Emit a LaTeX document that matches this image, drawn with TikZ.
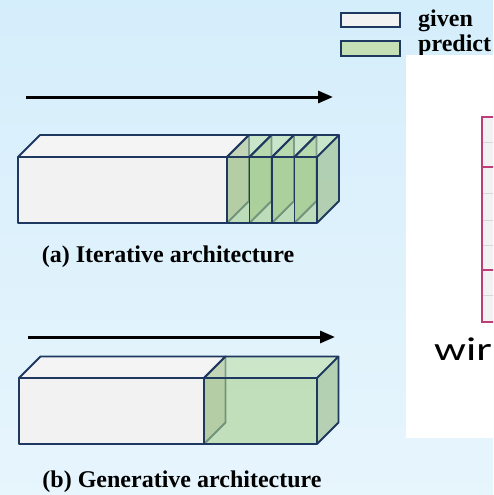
\documentclass[tikz,border=0pt]{standalone}
\usepackage{fontspec}
\setmainfont{Liberation Serif}
\newfontfamily\slidefont{Carlito}
\usetikzlibrary{arrows.meta}

\definecolor{bgtop}{RGB}{213,238,251}
\definecolor{bgbot}{RGB}{231,245,253}
\definecolor{edge}{RGB}{31,56,96}
\definecolor{givenfill}{RGB}{242,242,242}
\definecolor{giventop}{RGB}{244,244,244}
\definecolor{givenside}{RGB}{200,200,200}
\definecolor{predfront}{RGB}{169,209,142}
\definecolor{predtop}{RGB}{190,222,170}
\definecolor{predside}{RGB}{150,185,130}
\definecolor{legendgreen}{RGB}{197,224,180}
\definecolor{tablered}{RGB}{190,60,120}
\definecolor{rowline}{RGB}{215,215,215}

\tikzset{
  boxedge/.style={draw=edge, line width=1.8pt, line join=round},
  legendbox/.style={draw=edge, line width=1.8pt},
  flowarrow/.style={line width=3pt, -{Triangle[length=15pt,width=12pt]}},
  labeltext/.style={inner sep=0pt, font=\fontsize{24}{24}\selectfont\bfseries},
  givenface/.style={fill=givenfill},
  giventopface/.style={fill=giventop},
  givensideface/.style={fill=givenside},
  predface/.style={fill=predfront, fill opacity=0.6},
  predtopface/.style={fill=predtop, fill opacity=0.6},
  predsideface/.style={fill=predside, fill opacity=0.6},
}

% cuboid: x0, x1, front top y, front bottom y, depth, front/top/side face styles
\newcommand\cuboid[8]{%
  \fill[#6] (#1,#3) rectangle (#2,#4);
  \fill[#7] (#1,#3) -- ++(#5,-#5) -- ++(#2-#1,0) -- (#2,#3) -- cycle;
  \fill[#8] (#2,#3) -- ++(#5,-#5) -- ++(0,#4-#3) -- (#2,#4) -- cycle;
  \draw[boxedge] (#1,#3) rectangle (#2,#4);
  \draw[boxedge] (#1,#3) -- ++(#5,-#5) -- ++(#2-#1,0) -- (#2,#3);
  \draw[boxedge] (#2+#5,#3-#5) -- ++(0,#4-#3) -- (#2,#4);
}

\begin{document}
\begin{tikzpicture}[x=1pt, y=-1pt]
  \clip (0,0) rectangle (493,495);
  % backdrop
  \shade[top color=bgtop, bottom color=bgbot] (0,0) rectangle (493,495);

  % (a) iterative architecture
  \coordinate (a-from) at (26,97);
  \coordinate (a-to) at (333,97);
  \draw[flowarrow] (a-from) -- (a-to);
  \cuboid{18}{227}{157}{223}{22}{givenface}{giventopface}{givensideface}
  \foreach \i in {0,1,2,3}{
    \pgfmathsetmacro\xa{227+22.5*\i}
    \pgfmathsetmacro\xb{227+22.5*(\i+1)}
    \cuboid{\xa}{\xb}{157}{223}{22}{predface}{predtopface}{predsideface}
  }
  \node[labeltext, anchor=base] (cap-a) at (168,262) {(a) Iterative architecture};

  % (b) generative architecture
  \coordinate (b-from) at (28,337);
  \coordinate (b-to) at (335,337);
  \draw[flowarrow] (b-from) -- (b-to);
  \cuboid{19}{204}{378}{444}{21.5}{givenface}{giventopface}{givensideface}
  \cuboid{204}{317}{378}{444}{21.5}{predface}{predtopface}{predsideface}
  \node[labeltext, anchor=base] (cap-b) at (182,487) {(b) Generative architecture};

  % legend
  \node[legendbox, fill=givenfill, minimum width=59pt, minimum height=14pt, inner sep=0pt, anchor=north west] (key-given) at (340,12) {};
  \node[legendbox, fill=legendgreen, minimum width=59pt, minimum height=15pt, inner sep=0pt, anchor=north west] (key-pred) at (340,40) {};
  \node[labeltext, anchor=base west] (txt-given) at (418,27) {given};
  \node[labeltext, anchor=base west] (txt-pred) at (418,52) {predict};

  % slide panel on the right
  \fill[white] (406,55) rectangle (500,438);
  \fill[givenfill] (482,117) rectangle (500,322);
  \foreach \y in {142,193,220,245,295}{
    \draw[rowline, line width=0.8pt] (483,\y) -- (500,\y);
  }
  \foreach \y in {167,270}{
    \draw[tablered, line width=1.3pt] (482,\y) -- (500,\y);
  }
  \draw[tablered, line width=1.3pt] (500,117) -- (482,117) -- (482,322) -- (500,322);
  \node[inner sep=0pt, anchor=base west] (slide-word) at (434,360)
    {\slidefont\fontsize{33}{33}\selectfont\scalebox{1.35}[1]{wir}};
\end{tikzpicture}
\end{document}
